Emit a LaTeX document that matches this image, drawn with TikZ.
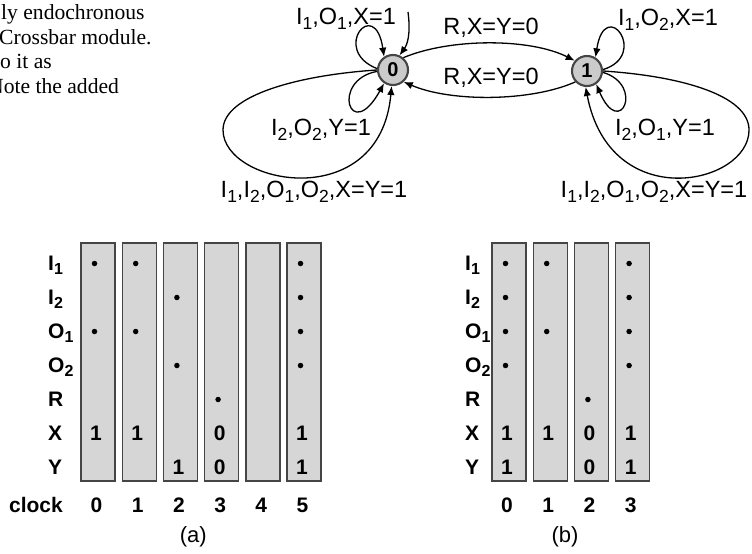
\documentclass[tikz,border=0pt]{standalone}
\usepackage{fontspec}
\setmainfont{Liberation Sans}
\newfontfamily\captfont{Liberation Serif}
\usetikzlibrary{arrows.meta}
\definecolor{slotfill}{HTML}{D6D6D6}
\definecolor{statefill}{HTML}{CBCBCB}
\definecolor{rim}{HTML}{454545}
\newcommand{\sbs}[1]{\raisebox{-5pt}{\fontsize{17.5}{17.5}\selectfont #1}}
\newcommand{\rsb}[1]{\raisebox{-4pt}{\fontsize{16}{16}\selectfont #1}}

\begin{document}
\begin{tikzpicture}[scale=0.35146]
            \tikzstyle{every node}+=[inner sep=0pt]
            \tikzstyle{state}=[circle, draw=rim, fill=statefill, line width=2.1pt, minimum size=30pt, font=\fontsize{20}{20}\selectfont\bfseries]
            \tikzstyle{trans}=[line width=1.3pt, -{Latex[length=9pt,width=7.5pt]}]
            \tikzstyle{lbl}=[anchor=base, font=\fontsize{23.5}{23.5}\selectfont]
            \tikzstyle{slotbox}=[draw=rim, fill=slotfill, line width=1.4pt]
            \tikzstyle{rowlbl}=[anchor=base west, font=\fontsize{21}{21}\selectfont\bfseries]
            \tikzstyle{bitval}=[anchor=base, font=\fontsize{21}{21}\selectfont\bfseries]
            \tikzstyle{dotmark}=[circle, fill=black, minimum size=5.5pt]
            \tikzstyle{capt}=[anchor=base west, font=\captfont\fontsize{21.6}{21.6}\selectfont]
            \useasboundingbox (0,0) rectangle (75.2,-55.4);
            \draw (0.1,-1.95) node[capt] (cap1) {ly endochronous};
            \draw (-0.1,-4.45) node[capt] (cap2) {Crossbar module.};
            \draw (0.0,-6.85) node[capt] (cap3) {o it as};
            \draw (-1.2,-9.35) node[capt] (cap4) {Note the added};
            \draw (39.3,-7.0) node[state] (s0) {0};
            \draw (58.7,-7.1) node[state] (s1) {1};
            \draw (34.6,-2.5) node[lbl] (l0up) {I\sbs{1},O\sbs{1},X=1};
            \draw (49.1,-3.5) node[lbl] (l01) {R,X=Y=0};
            \draw (49.1,-8.5) node[lbl] (l10) {R,X=Y=0};
            \draw (32.1,-13.6) node[lbl] (l0lo) {I\sbs{2},O\sbs{2},Y=1};
            \draw (31.4,-19.8) node[lbl] (l0big) {I\sbs{1},I\sbs{2},O\sbs{1},O\sbs{2},X=Y=1};
            \draw (66.8,-2.6) node[lbl] (l1up) {I\sbs{1},O\sbs{2},X=1};
            \draw (66.5,-13.6) node[lbl] (l1lo) {I\sbs{2},O\sbs{1},Y=1};
            \draw (65.4,-19.8) node[lbl] (l1big) {I\sbs{1},I\sbs{2},O\sbs{1},O\sbs{2},X=Y=1};
            \coordinate (init) at (40.8,-1.2);
            \coordinate (far0) at (22.3,-13.0);
            \coordinate (far1) at (74.9,-13.0);
            \draw [trans] (init) .. controls (41.1,-3.5) and (40.7,-4.5) .. (s0.66);
            \draw [trans] (s0.50) .. controls (45,-3.8) and (53,-3.8) .. (s1.140);
            \draw [trans] (s1.223) .. controls (53,-10.2) and (45,-10.2) .. (s0.-48);
            \draw [trans] (s0.175) .. controls (33.0,-5.0) and (37.5,0.5) .. (s0.124);
            \draw [trans] (s0.185) .. controls (33.0,-8.0) and (35.0,-14.5) .. (s0.236);
            \draw [trans] (s0.180) .. controls (30.0,-7.5) and (22.3,-9.5) .. (far0) .. controls (22.3,-18.5) and (38.0,-21.5) .. (s0.265);
            \draw [trans] (s1.5) .. controls (65.0,-5.5) and (60.5,0.5) .. (s1.58);
            \draw [trans] (s1.-5) .. controls (64.5,-8.5) and (62.0,-14.0) .. (s1.-55);
            \draw [trans] (s1.0) .. controls (68.0,-7.6) and (74.9,-9.5) .. (far1) .. controls (74.9,-18.5) and (61.0,-21.5) .. (s1.265);
            \draw [slotbox] (8.1,-24.3) rectangle (11.5,-48.1);
            \draw [slotbox] (12.22,-24.3) rectangle (15.62,-48.1);
            \draw [slotbox] (16.34,-24.3) rectangle (19.74,-48.1);
            \draw [slotbox] (20.46,-24.3) rectangle (23.86,-48.1);
            \draw [slotbox] (24.58,-24.3) rectangle (27.98,-48.1);
            \draw [slotbox] (28.7,-24.3) rectangle (32.1,-48.1);
            \draw (4.8,-27.03) node[rowlbl] (ai1) {I\rsb{1}};
            \draw (4.8,-30.43) node[rowlbl] (ai2) {I\rsb{2}};
            \draw (4.8,-33.83) node[rowlbl] (ao1) {O\rsb{1}};
            \draw (4.8,-37.23) node[rowlbl] (ao2) {O\rsb{2}};
            \draw (4.8,-40.63) node[rowlbl] (ar) {R};
            \draw (4.8,-44.03) node[rowlbl] (ax) {X};
            \draw (4.8,-47.43) node[rowlbl] (ay) {Y};
            \draw (6.3,-51.2) node[rowlbl, anchor=base east] (aclk) {clock};
            \draw (9.45,-26.35) node[dotmark] (a0i1) {};
            \draw (9.45,-33.15) node[dotmark] (a0o1) {};
            \draw (9.6,-44.03) node[bitval] (a0x) {1};
            \draw (13.57,-26.35) node[dotmark] (a1i1) {};
            \draw (13.57,-33.15) node[dotmark] (a1o1) {};
            \draw (13.72,-44.03) node[bitval] (a1x) {1};
            \draw (17.69,-29.75) node[dotmark] (a2i2) {};
            \draw (17.69,-36.55) node[dotmark] (a2o2) {};
            \draw (17.84,-47.43) node[bitval] (a2y) {1};
            \draw (21.81,-39.95) node[dotmark] (a3r) {};
            \draw (21.96,-44.03) node[bitval] (a3x) {0};
            \draw (21.96,-47.43) node[bitval] (a3y) {0};
            \draw (30.05,-26.35) node[dotmark] (a5i1) {};
            \draw (30.05,-29.75) node[dotmark] (a5i2) {};
            \draw (30.05,-33.15) node[dotmark] (a5o1) {};
            \draw (30.05,-36.55) node[dotmark] (a5o2) {};
            \draw (30.2,-44.03) node[bitval] (a5x) {1};
            \draw (30.2,-47.43) node[bitval] (a5y) {1};
            \draw (9.65,-51.2) node[bitval] (ac0) {0};
            \draw (13.77,-51.2) node[bitval] (ac1) {1};
            \draw (17.89,-51.2) node[bitval] (ac2) {2};
            \draw (22.01,-51.2) node[bitval] (ac3) {3};
            \draw (26.13,-51.2) node[bitval] (ac4) {4};
            \draw (30.25,-51.2) node[bitval] (ac5) {5};
            \draw (19.33,-54.2) node[anchor=base, font=\fontsize{22}{22}\selectfont] (capa) {(a)};
            \draw [slotbox] (49.2,-24.3) rectangle (52.6,-48.1);
            \draw [slotbox] (53.32,-24.3) rectangle (56.72,-48.1);
            \draw [slotbox] (57.44,-24.3) rectangle (60.84,-48.1);
            \draw [slotbox] (61.56,-24.3) rectangle (64.96,-48.1);
            \draw (46.5,-27.03) node[rowlbl] (bi1) {I\rsb{1}};
            \draw (46.5,-30.43) node[rowlbl] (bi2) {I\rsb{2}};
            \draw (46.5,-33.83) node[rowlbl] (bo1) {O\rsb{1}};
            \draw (46.5,-37.23) node[rowlbl] (bo2) {O\rsb{2}};
            \draw (46.5,-40.63) node[rowlbl] (br) {R};
            \draw (46.5,-44.03) node[rowlbl] (bx) {X};
            \draw (46.5,-47.43) node[rowlbl] (by) {Y};
            \draw (50.55,-26.35) node[dotmark] (b0i1) {};
            \draw (50.55,-29.75) node[dotmark] (b0i2) {};
            \draw (50.55,-33.15) node[dotmark] (b0o1) {};
            \draw (50.55,-36.55) node[dotmark] (b0o2) {};
            \draw (50.7,-44.03) node[bitval] (b0x) {1};
            \draw (50.7,-47.43) node[bitval] (b0y) {1};
            \draw (54.67,-26.35) node[dotmark] (b1i1) {};
            \draw (54.67,-33.15) node[dotmark] (b1o1) {};
            \draw (54.82,-44.03) node[bitval] (b1x) {1};
            \draw (58.79,-39.95) node[dotmark] (b2r) {};
            \draw (58.94,-44.03) node[bitval] (b2x) {0};
            \draw (58.94,-47.43) node[bitval] (b2y) {0};
            \draw (62.91,-26.35) node[dotmark] (b3i1) {};
            \draw (62.91,-29.75) node[dotmark] (b3i2) {};
            \draw (62.91,-33.15) node[dotmark] (b3o1) {};
            \draw (62.91,-36.55) node[dotmark] (b3o2) {};
            \draw (63.06,-44.03) node[bitval] (b3x) {1};
            \draw (63.06,-47.43) node[bitval] (b3y) {1};
            \draw (50.7,-51.2) node[bitval] (bc0) {0};
            \draw (54.82,-51.2) node[bitval] (bc1) {1};
            \draw (58.94,-51.2) node[bitval] (bc2) {2};
            \draw (63.06,-51.2) node[bitval] (bc3) {3};
            \draw (56.5,-54.2) node[anchor=base, font=\fontsize{22}{22}\selectfont] (capb) {(b)};
        \end{tikzpicture}
\end{document}
